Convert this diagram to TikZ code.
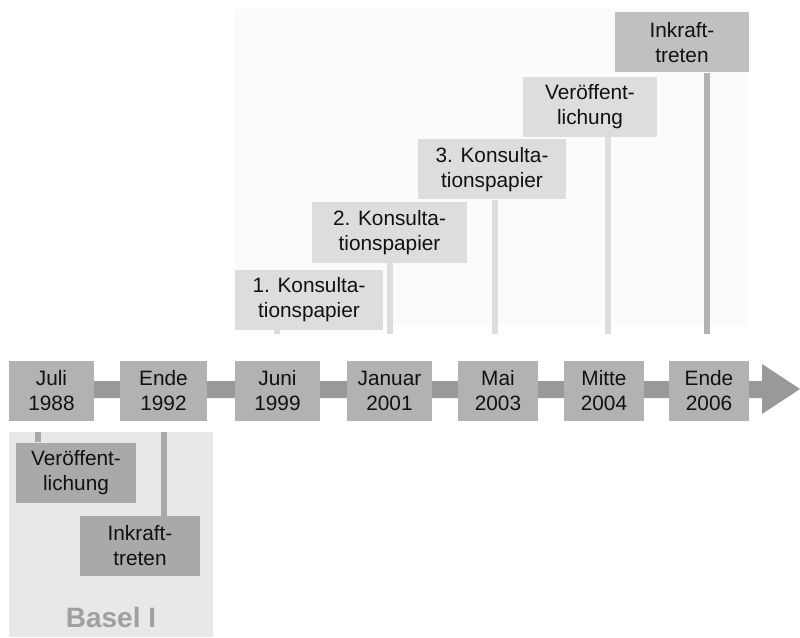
\documentclass[tikz,border=0pt]{standalone}
\usepackage{fontspec}
\setmainfont{Liberation Sans}
\definecolor{tlbox}{HTML}{B2B2B2}
\definecolor{tlbar}{HTML}{999999}
\definecolor{topbg}{HTML}{FBFBFB}
\definecolor{lightbox}{HTML}{DDDDDD}
\definecolor{darkbox}{HTML}{C0C0C0}
\definecolor{darkline}{HTML}{B3B3B3}
\definecolor{botbg}{HTML}{E8E8E8}
\definecolor{botbox}{HTML}{A9A9A9}
\definecolor{baseltext}{HTML}{A0A0A0}
\definecolor{txt}{HTML}{111111}
\tikzset{
  lbl/.style={inner sep=0pt, align=center, text=txt,
    font=\fontsize{15.6}{18.75}\selectfont},
  tlnode/.style={lbl, fill=tlbox, minimum height=45pt},
  topnode/.style={lbl, fill=lightbox, minimum height=45pt},
  topdark/.style={lbl, fill=darkbox, minimum height=45pt},
  botnode/.style={lbl, fill=botbox, minimum height=45pt},
  lightline/.style={draw=lightbox, line width=4.5pt},
  darklineS/.style={draw=darkline, line width=4.5pt},
  botline/.style={draw=botbox, line width=4.5pt}
}
\begin{document}
\begin{tikzpicture}[x=0.75pt,y=-0.75pt]
\useasboundingbox (0,0) rectangle (800,638);
% backgrounds
\fill[topbg] (234,9) rectangle (749,326);
\fill[botbg] (9,432) rectangle (213,637);
% timeline arrow
\fill[tlbar] (9,381) -- (762,381) -- (762,364) -- (800,389) -- (762,414) -- (762,398) -- (9,398) -- cycle;
% timeline boxes
\node[tlnode, minimum width=63.75pt] (t1) at (51.5,391) {Juli\\1988};
\node[tlnode, minimum width=65.25pt] (t2) at (163.5,391) {Ende\\1992};
\node[tlnode, minimum width=63.75pt] (t3) at (277.5,391) {Juni\\1999};
\node[tlnode, minimum width=63.75pt] (t4) at (389.5,391) {Januar\\2001};
\node[tlnode, minimum width=60pt] (t5) at (498,391) {Mai\\2003};
\node[tlnode, minimum width=60pt] (t6) at (604,391) {Mitte\\2004};
\node[tlnode, minimum width=60pt] (t7) at (709,391) {Ende\\2006};
% top boxes
\node[topnode, minimum width=111pt] (k1) at (309,300) {1. Konsulta-\\tionspapier};
\node[topnode, minimum width=116.25pt] (k2) at (389.5,232.5) {2. Konsulta-\\tionspapier};
\node[topnode, minimum width=111pt] (k3) at (492,169.5) {3. Konsulta-\\tionspapier};
\node[topnode, minimum width=100.5pt] (v2) at (590,107) {Veröffent-\\lichung};
\node[topdark, minimum width=100.5pt] (i2) at (682,42.5) {Inkraft-\\treten};
% top connectors
\coordinate (e1) at (277,334);
\coordinate (e2) at (390,334);
\coordinate (e3) at (495,334);
\coordinate (e4) at (608,334);
\coordinate (e5) at (707,334);
\draw[lightline] (k1.south -| e1) -- (e1);
\draw[lightline] (k2.south -| e2) -- (e2);
\draw[lightline] (k3.south -| e3) -- (e3);
\draw[lightline] (v2.south -| e4) -- (e4);
\draw[darklineS] (i2.south -| e5) -- (e5);
% bottom boxes
\node[botnode, minimum width=90pt] (v1) at (76,472.5) {Veröffent-\\lichung};
\node[botnode, minimum width=90pt] (i1) at (140,546) {Inkraft-\\treten};
\coordinate (b1) at (38,432);
\coordinate (b2) at (164,432);
\draw[botline] (b1) -- (v1.north -| b1);
\draw[botline] (b2) -- (i1.north -| b2);
\node[inner sep=0pt, text=baseltext, anchor=base, font=\fontsize{21}{25}\selectfont\bfseries] (basel) at (111,627) {Basel I};
\end{tikzpicture}
\end{document}
